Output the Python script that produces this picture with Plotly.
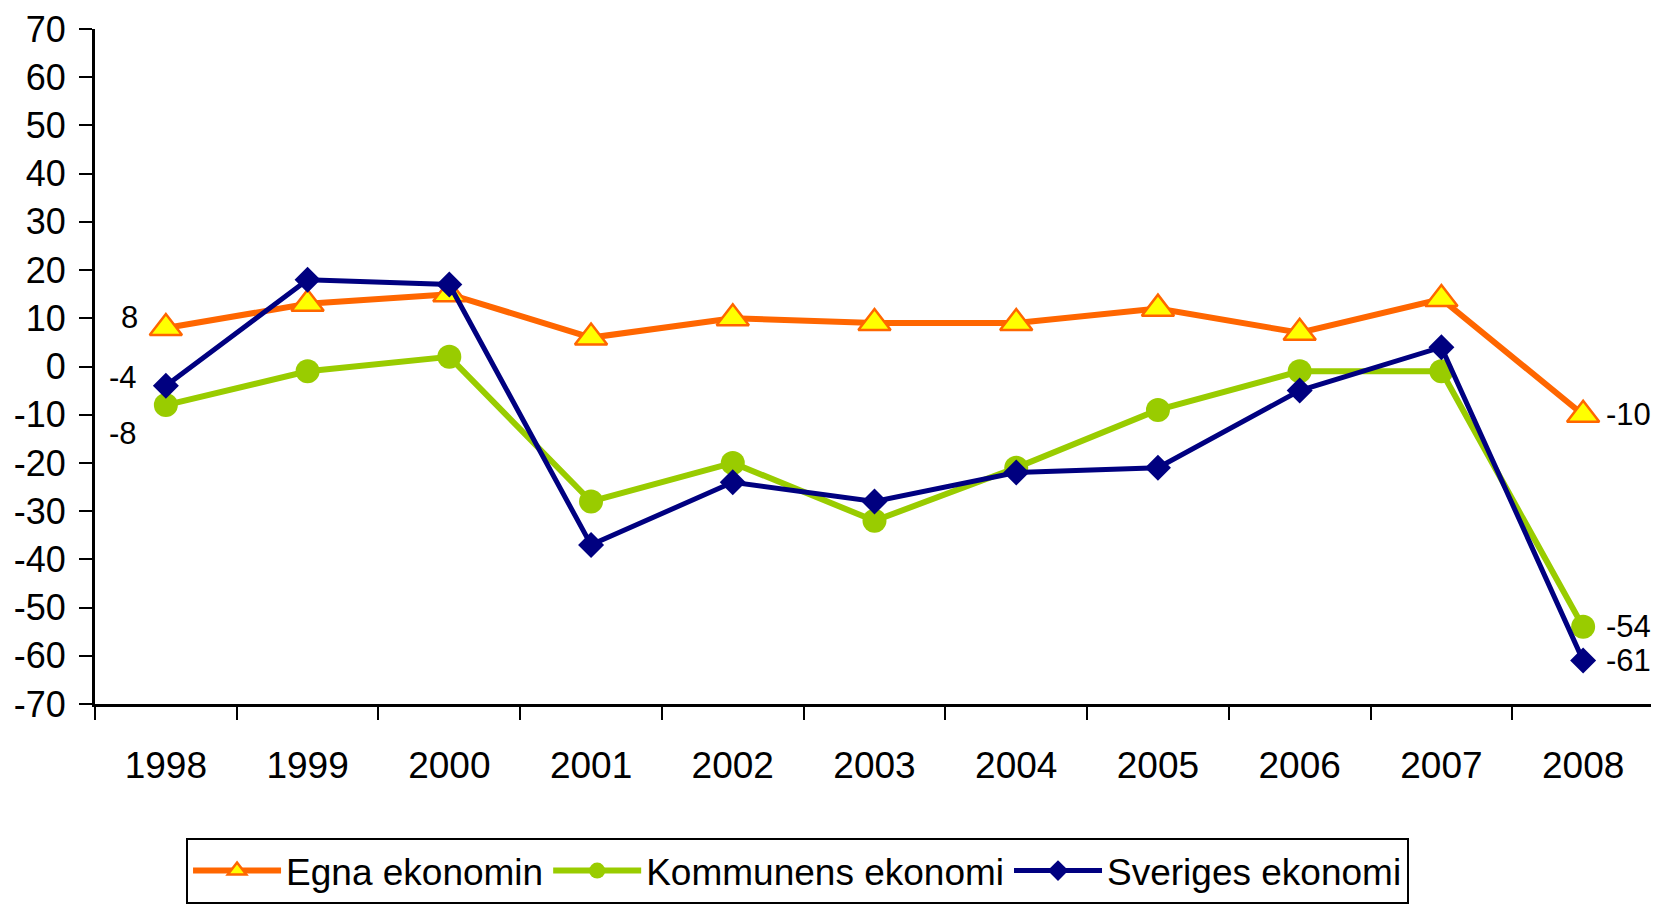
import plotly.graph_objects as go

years = ["1998", "1999", "2000", "2001", "2002", "2003", "2004", "2005", "2006", "2007", "2008"]
egna = [8, 13, 15, 6, 10, 9, 9, 12, 7, 14, -10]
kommunens = [-8, -1, 2, -28, -20, -32, -21, -9, -1, -1, -54]
sveriges = [-4, 18, 17, -37, -24, -28, -22, -21, -5, 4, -61]
y_ticks = list(range(-70, 71, 10))
y_tick_labels = [str(v) for v in y_ticks]

FONT = "Liberation Sans, Arial, sans-serif"

fig = go.Figure()
fig.add_trace(go.Scatter(
    x=years, y=egna, name="Egna ekonomin", mode="lines+markers",
    line=dict(color="#FF6600", width=6),
    marker=dict(symbol="triangle-up", size=28, color="#FFFF00",
                line=dict(color="#FF6600", width=2.5)),
))
fig.add_trace(go.Scatter(
    x=years, y=kommunens, name="Kommunens ekonomi", mode="lines+markers",
    line=dict(color="#99CC00", width=6),
    marker=dict(symbol="circle", size=24, color="#99CC00"),
))
fig.add_trace(go.Scatter(
    x=years, y=sveriges, name="Sveriges ekonomi", mode="lines+markers",
    line=dict(color="#000080", width=5),
    marker=dict(symbol="diamond", size=20, color="#000080"),
))

# data labels on first and last points
first_offsets = [(-36, 10), (-43, -28), (-43, 8)]
series = [egna, kommunens, sveriges]
last_idx = len(years) - 1
for s, (dx, dy) in zip(series, first_offsets):
    fig.add_annotation(x=0, y=s[0], text=str(s[0]), showarrow=False,
                       xshift=dx, yshift=dy, font=dict(size=31, color="black", family=FONT))
for s in series:
    fig.add_annotation(x=last_idx, y=s[-1], text=str(s[-1]), showarrow=False,
                       xshift=45, yshift=0, font=dict(size=31, color="black", family=FONT))

fig.update_layout(
    width=1651, height=903,
    margin=dict(l=87, r=5, t=21, b=207, autoexpand=False),
    paper_bgcolor="white", plot_bgcolor="white",
    font=dict(family=FONT, color="black"),
    showlegend=True,
    legend=dict(orientation="h", x=0.0584, xanchor="left", y=-0.1985, yanchor="top",
                bgcolor="white", bordercolor="black", borderwidth=2,
                font=dict(size=37, family=FONT, color="black"),
                itemwidth=88, tracegroupgap=0),
)
fig.update_xaxes(
    type="category", range=[-0.5, 10.5], showgrid=False, zeroline=False,
    showline=True, linecolor="black", linewidth=3,
    ticks="outside", tickson="boundaries", ticklen=13, tickwidth=2, tickcolor="black",
    tickfont=dict(size=37, family=FONT, color="black"), ticklabelstandoff=27,
)
fig.update_yaxes(
    range=[-70, 70], tickvals=y_ticks, ticktext=y_tick_labels, showgrid=False, zeroline=False,
    showline=True, linecolor="black", linewidth=3,
    ticks="outside", ticklen=13, tickwidth=2, tickcolor="black",
    tickfont=dict(size=36, family=FONT, color="black"), ticklabelstandoff=6,
)

fig.write_html("out.html")
